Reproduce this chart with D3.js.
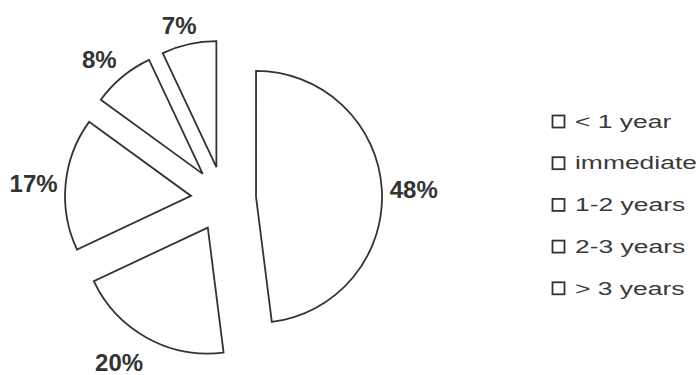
<!DOCTYPE html>
<html>
<head>
<meta charset="utf-8">
<script src="https://cdn.jsdelivr.net/npm/d3@7"></script>
<style>
  html, body { margin: 0; padding: 0; background: #ffffff; }
  svg { display: block; }
</style>
</head>
<body>
<svg id="chart" width="698" height="375"></svg>
<script>
// Time horizon categories and their shares (percent)
const categories = ["< 1 year", "immediate", "1-2 years", "2-3 years", "> 3 years"];
const values = [48, 20, 17, 8, 7];

const width = 698, height = 375;
const cx = 223.5, cy = 199;      // pie centre
const radius = 126;              // slice radius
const explode = 32.6;            // distance each slice is pulled out
const labelAnchor = 132;         // label anchor distance from a slice's apex
const labelPadX = 2, labelHalfH = 16;

const ink = "#333333";
const font = "'Liberation Sans', Arial, Helvetica, sans-serif";
const svg = d3.select("#chart");

svg.append("rect").attr("width", width).attr("height", height).attr("fill", "#ffffff");

const pie = d3.pie().sort(null).value(d => d.value).startAngle(0).endAngle(2 * Math.PI);
const arcs = pie(categories.map((c, i) => ({ name: c, value: values[i] })));

const arc = d3.arc().innerRadius(0).outerRadius(radius);

const g = svg.append("g").attr("transform", `translate(${cx},${cy})`);

// unit vector along a slice's middle angle (0 = 12 o'clock, clockwise)
const dir = d => {
  const a = (d.startAngle + d.endAngle) / 2;
  return [Math.sin(a), -Math.cos(a)];
};
const clamp1 = v => Math.max(-1, Math.min(1, v));

const slice = g.selectAll("g.slice")
  .data(arcs)
  .join("g")
  .attr("class", "slice")
  .attr("transform", d => {
    const [ux, uy] = dir(d);
    return `translate(${ux * explode},${uy * explode})`;
  });

slice.append("path")
  .attr("d", arc)
  .attr("fill", "#ffffff")
  .attr("stroke", ink)
  .attr("stroke-width", 1.8)
  .attr("stroke-linejoin", "miter");

// Percentage labels sit just outside the rim; the text box is pushed
// outward so its nearest side/corner faces the slice.
slice.append("text")
  .attr("text-anchor", "middle")
  .attr("dominant-baseline", "central")
  .attr("dy", "0.12em")
  .attr("font-family", font)
  .attr("font-weight", "bold")
  .attr("font-size", 24)
  .attr("fill", ink)
  .text(d => d.data.value + "%")
  .each(function (d) {
    const [ux, uy] = dir(d);
    const halfW = this.getComputedTextLength() / 2 + labelPadX;
    const x = ux * labelAnchor + clamp1(ux * 2) * halfW;
    const y = uy * labelAnchor + clamp1(uy * 2) * labelHalfH;
    d3.select(this).attr("x", x).attr("y", y);
  });

// Legend
const legendY = d3.scalePoint().domain(categories).range([121.5, 288.3]);
const legend = svg.append("g");

const item = legend.selectAll("g.item")
  .data(categories)
  .join("g")
  .attr("class", "item")
  .attr("transform", d => `translate(552,${legendY(d)})`);

item.append("rect")
  .attr("x", 0.5).attr("y", -6)
  .attr("width", 12).attr("height", 12)
  .attr("fill", "#ffffff")
  .attr("stroke", ink)
  .attr("stroke-width", 1.8);

item.append("text")
  .attr("transform", "translate(23,6.2) scale(1.43,1)")
  .attr("font-family", font)
  .attr("font-size", 18.5)
  .attr("fill", "#3a3a3a")
  .text(d => d);
</script>
</body>
</html>
